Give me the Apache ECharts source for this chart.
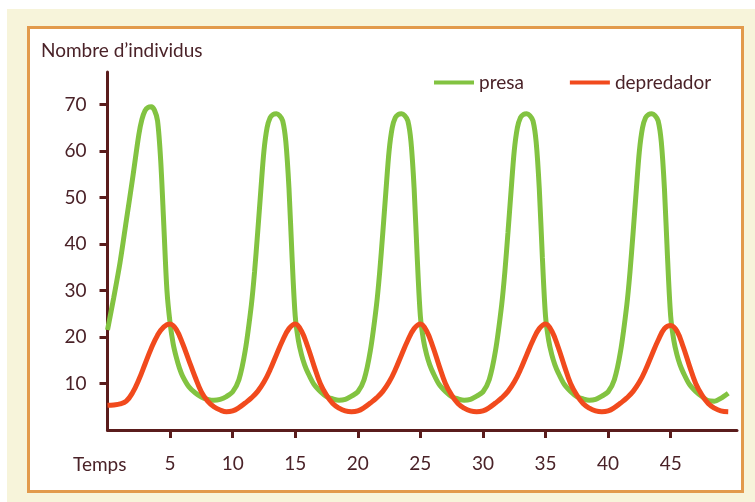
<!DOCTYPE html>
<html>
<head>
<meta charset="utf-8">
<script src="https://cdn.jsdelivr.net/npm/echarts@6/dist/echarts.min.js"></script>
<style>
html,body{margin:0;padding:0;background:#ffffff;}
#chart{width:755px;height:502px;}
</style>
</head>
<body>
<div id="chart"></div>
<script>
// ---- data ----
const tPresa = [
  0,0.5,1,1.5,2,2.5,2.75,3,3.25,3.5,3.75,4,4.25,4.5,4.75,5,5.25,5.5,5.75,6,6.5,7,7.5,8,8.5,9,9.5,
  10,10.5,11,11.5,11.75,12,12.25,12.5,12.75,13,13.25,13.5,13.75,14,14.25,14.5,14.75,15,15.25,15.5,15.75,16,16.5,17,17.5,18,18.5,19,19.5,
  20,20.5,21,21.5,21.75,22,22.25,22.5,22.75,23,23.25,23.5,23.75,24,24.25,24.5,24.75,25,25.25,25.5,25.75,26,26.5,27,27.5,28,28.5,29,29.5,
  30,30.5,31,31.5,31.75,32,32.25,32.5,32.75,33,33.25,33.5,33.75,34,34.25,34.5,34.75,35,35.25,35.5,35.75,36,36.5,37,37.5,38,38.5,39,39.5,
  40,40.5,41,41.5,41.75,42,42.25,42.5,42.75,43,43.25,43.5,43.75,44,44.25,44.5,44.75,45,45.25,45.5,45.75,46,46.5,47,47.5,48,48.5,49,49.6
];
const presa = [
  21.5,28.5,36,45,54,63.5,66.8,68.7,69.4,69.5,68.8,66.5,58,44,30,23,18.5,15.6,13.3,11.6,9.3,8,7.1,6.6,6.4,6.6,7.2,
  8.2,10.8,17,27,34,42.5,51.5,60,65,67.2,67.9,68,67.6,66.5,62,52,37,24.5,19.3,16.2,14,12.4,9.8,8.3,7.2,6.7,6.4,6.6,7.3,
  8.2,10.8,17,27,34,42.5,51.5,60,65,67.2,67.9,68,67.6,66.5,62,52,37,24.5,19.3,16.2,14,12.4,9.8,8.3,7.2,6.7,6.4,6.6,7.3,
  8.2,10.8,17,27,34,42.5,51.5,60,65,67.2,67.9,68,67.6,66.5,62,52,37,24.5,19.3,16.2,14,12.4,9.8,8.3,7.2,6.7,6.4,6.6,7.3,
  8.2,10.8,17,27,34,42.5,51.5,60,65,67.2,67.9,68,67.6,66.5,62,52,37,24.5,19.3,16.2,14,12.4,9.8,8.3,7.2,6.3,6.2,6.8,7.9
];
const tDepredador = [
  0,0.5,1,1.5,2,2.5,3,3.5,4,4.5,5,5.5,6,6.5,7,7.5,8,8.5,9,9.5,
  10,10.5,11,11.5,12,12.5,13,13.5,14,14.5,15,15.5,16,16.5,17,17.5,18,18.5,19,19.5,
  20,20.5,21,21.5,22,22.5,23,23.5,24,24.5,25,25.5,26,26.5,27,27.5,28,28.5,29,29.5,
  30,30.5,31,31.5,32,32.5,33,33.5,34,34.5,35,35.5,36,36.5,37,37.5,38,38.5,39,39.5,
  40,40.5,41,41.5,42,42.5,43,43.5,44,44.5,45,45.5,46,46.5,47,47.5,48,48.5,49,49.6
];
const depredador = [
  5.3,5.4,5.6,6.2,8,10.8,14.2,17.6,20.4,22.2,22.8,21.6,18.6,15,11.4,8.2,6.2,5,4.3,3.9,
  4.1,4.8,5.8,6.9,8.3,10.3,13,16.2,19.3,21.8,22.8,21.3,17.9,13.8,10,7.5,5.7,4.7,4.1,3.9,
  4.1,4.8,5.8,6.9,8.3,10.3,13,16.2,19.3,21.8,22.8,21.3,17.9,13.8,10,7.5,5.7,4.7,4.1,3.9,
  4.1,4.8,5.8,6.9,8.3,10.3,13,16.2,19.3,21.8,22.8,21.3,17.9,13.8,10,7.5,5.7,4.7,4.1,3.9,
  4.1,4.8,5.8,6.9,8.3,10.3,13,16.2,19.3,21.8,22.5,21.3,17.9,13.8,10,7.5,5.7,4.7,4.1,3.9
];
const xTicks = [5,10,15,20,25,30,35,40,45];
const yTicks = [10,20,30,40,50,60,70];
const seriesNames = ['presa','depredador'];
const yTitle = "Nombre d\u2019individus";
const xTitle = 'Temps';

const FONT = 'Lato';
const TXT = '#4a2228';
const AX = '#5a1c1c';
const GREEN = '#82c341';
const RED = '#f14a1d';

const pair = (ts, ys) => ts.map((t, i) => [t, ys[i]]);

const chart = echarts.init(document.getElementById('chart'), null, {renderer: 'canvas'});
chart.setOption({
  backgroundColor: '#f7f4da',
  animation: false,
  textStyle: {fontFamily: FONT},
  graphic: [
    {type: 'rect', z: -10, shape: {x: 0, y: 0, width: 755, height: 9}, style: {fill: '#ffffff'}},
    {type: 'rect', z: -10, shape: {x: 0, y: 0, width: 7, height: 502}, style: {fill: '#ffffff'}},
    {type: 'rect', z: -9, shape: {x: 28.5, y: 27.5, width: 714, height: 464}, style: {fill: '#ffffff', stroke: '#e29a4c', lineWidth: 3}},
    {type: 'text', z: 5, left: 41, top: 41, style: {text: yTitle, fill: TXT, font: '19px ' + FONT}},
    {type: 'text', z: 5, left: 73, top: 455, style: {text: xTitle, fill: TXT, font: '19px ' + FONT}}
  ],
  legend: {
    left: 429, top: 68,
    icon: 'rect', itemWidth: 40, itemHeight: 4, itemGap: 46,
    textStyle: {color: TXT, fontSize: 19, fontFamily: FONT},
    data: [
      {name: seriesNames[0], itemStyle: {color: GREEN}},
      {name: seriesNames[1], itemStyle: {color: RED}}
    ]
  },
  grid: {left: 107.5, right: 18, top: 72, bottom: 72, containLabel: false},
  xAxis: {
    type: 'value', min: 0, max: 50.3,
    splitLine: {show: false},
    axisLine: {onZero: false, lineStyle: {color: AX, width: 3}},
    axisTick: {customValues: xTicks, length: 8, lineStyle: {color: AX, width: 3}},
    axisLabel: {customValues: xTicks, color: TXT, fontSize: 19, fontFamily: FONT, margin: 24}
  },
  yAxis: {
    type: 'value', min: 0, max: 77,
    splitLine: {show: false},
    axisLine: {show: true, lineStyle: {color: AX, width: 3}},
    axisTick: {show: true, customValues: yTicks, length: 8, lineStyle: {color: AX, width: 3}},
    axisLabel: {customValues: yTicks, color: TXT, fontSize: 19, fontFamily: FONT, margin: 21}
  },
  series: [
    {name: seriesNames[0], type: 'line', data: pair(tPresa, presa), smooth: 0.3, symbol: 'none',
     lineStyle: {color: GREEN, width: 5}, itemStyle: {color: GREEN}, z: 3},
    {name: seriesNames[1], type: 'line', data: pair(tDepredador, depredador), smooth: 0.4, symbol: 'none',
     lineStyle: {color: RED, width: 5}, itemStyle: {color: RED}, z: 4}
  ]
});
</script>
</body>
</html>
